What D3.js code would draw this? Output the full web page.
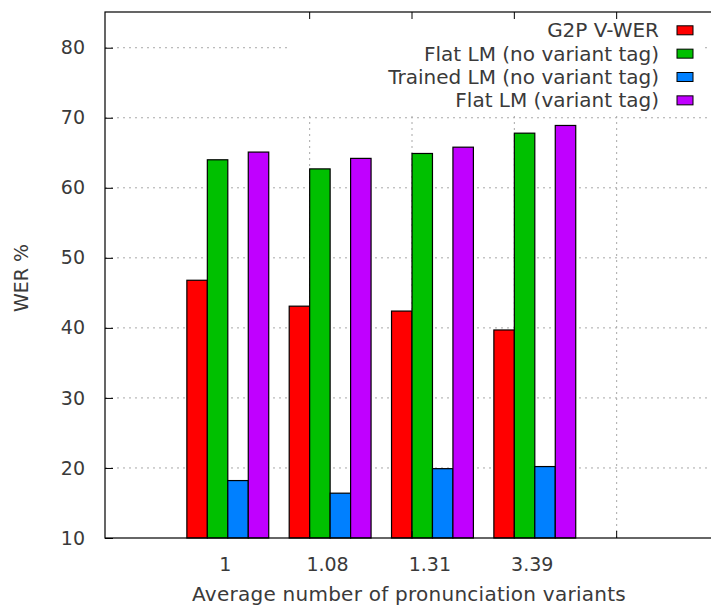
<!DOCTYPE html>
<html>
<head>
<meta charset="utf-8">
<script src="https://cdn.jsdelivr.net/npm/d3@7"></script>
<style>
  body { margin: 0; background: #fff; }
  svg { display: block; font-family: "DejaVu Sans", sans-serif; }
</style>
</head>
<body>
<div id="chart"></div>
<script>
const categories = ["1", "1.08", "1.31", "3.39"];
const seriesNames = ["G2P V-WER", "Flat LM (no variant tag)", "Trained LM (no variant tag)", "Flat LM (variant tag)"];
const colors = ["#ff0000", "#00c000", "#0080ff", "#c000ff"];
const g2p = [46.8, 43.1, 42.4, 39.7];
const flatNoTag = [64.0, 62.7, 64.9, 67.8];
const trainedNoTag = [18.2, 16.4, 19.9, 20.2];
const flatTag = [65.1, 64.2, 65.8, 68.9];
const yTicks = [10, 20, 30, 40, 50, 60, 70, 80];

const series = [g2p, flatNoTag, trainedNoTag, flatTag];

const width = 711;
const height = 606;
const margin = { top: 12, bottom: 68, left: 105, right: -8 };
const textColor = "#3a3a3a";
const yMax = 85.1;

const svg = d3.select("#chart")
    .append("svg")
    .attr("width", width)
    .attr("height", height);

// cluster i is centred at i, each bar is 0.2 wide
const x = d3.scaleLinear()
    .domain([-1.2, 4.8])
    .range([margin.left, width - margin.right]);

const y = d3.scaleLinear()
    .domain([10, yMax])
    .range([height - margin.bottom, margin.top]);

const barW = 0.2;
const gridTicks = categories.map((d, i) => i + 0.8);

// grid
svg.append("g")
    .selectAll("line")
    .data(yTicks.slice(1))
    .join("line")
        .attr("x1", x(-1.2)).attr("x2", x(4.8))
        .attr("y1", d => y(d)).attr("y2", d => y(d))
        .attr("stroke", "#a8a8a8")
        .attr("stroke-dasharray", "2,4");

svg.append("g")
    .selectAll("line")
    .data(gridTicks)
    .join("line")
        .attr("x1", d => x(d)).attr("x2", d => x(d))
        .attr("y1", y(10)).attr("y2", y(yMax))
        .attr("stroke", "#a8a8a8")
        .attr("stroke-dasharray", "2,4");

// bars
const bars = [];
series.forEach((vals, s) => vals.forEach((v, i) => bars.push({ s, i, v })));

svg.append("g")
    .selectAll("rect")
    .data(bars)
    .join("rect")
        .attr("x", d => x(d.i - 0.4 + d.s * barW))
        .attr("width", x(barW) - x(0))
        .attr("y", d => y(d.v))
        .attr("height", d => y(10) - y(d.v))
        .attr("fill", d => colors[d.s])
        .attr("stroke", "#000")
        .attr("stroke-width", 1.2);

// legend with white box
const legend = svg.append("g");
legend.append("rect")
    .attr("x", 290).attr("y", margin.top + 1)
    .attr("width", 415).attr("height", 101)
    .attr("fill", "#fff");

legend.selectAll("text")
    .data(seriesNames)
    .join("text")
        .attr("x", 659)
        .attr("y", (d, i) => 30.3 + i * 23.35)
        .attr("dy", "0.35em")
        .attr("text-anchor", "end")
        .attr("font-size", 20)
        .attr("fill", textColor)
        .text(d => d);

legend.selectAll("rect.sw")
    .data(seriesNames)
    .join("rect")
        .attr("class", "sw")
        .attr("x", 677)
        .attr("y", (d, i) => 25.8 + i * 23.35)
        .attr("width", 16)
        .attr("height", 9)
        .attr("fill", (d, i) => colors[i])
        .attr("stroke", "#000");

// axes
const yAxis = d3.axisLeft(y).tickValues(yTicks).tickSize(-8).tickPadding(20);
svg.append("g")
    .attr("transform", `translate(${margin.left},0)`)
    .call(yAxis)
    .call(g => g.select(".domain").remove())
    .call(g => g.selectAll("text").attr("font-size", 19).attr("fill", textColor).attr("font-family", "DejaVu Sans"))
    .call(g => g.selectAll("line").attr("stroke", "#000"));

const xAxis = d3.axisBottom(x)
    .tickValues(categories.map((d, i) => i - 0.03))
    .tickFormat((d, i) => categories[i])
    .tickSize(0).tickPadding(20);
svg.append("g")
    .attr("transform", `translate(0,${y(10)})`)
    .call(xAxis)
    .call(g => g.select(".domain").remove())
    .call(g => g.selectAll("text").attr("font-size", 19).attr("fill", textColor).attr("font-family", "DejaVu Sans"));

// x2 ticks at top and bottom
svg.append("g")
    .selectAll("line")
    .data(gridTicks)
    .join("line")
        .attr("x1", d => x(d)).attr("x2", d => x(d))
        .attr("y1", y(yMax)).attr("y2", y(yMax) + 7)
        .attr("stroke", "#000");
svg.append("g")
    .selectAll("line")
    .data(gridTicks)
    .join("line")
        .attr("x1", d => x(d)).attr("x2", d => x(d))
        .attr("y1", y(10)).attr("y2", y(10) - 7)
        .attr("stroke", "#000");

// border
svg.append("rect")
    .attr("x", x(-1.2)).attr("y", y(yMax))
    .attr("width", x(4.8) - x(-1.2))
    .attr("height", y(10) - y(yMax))
    .attr("fill", "none")
    .attr("stroke", "#000")
    .attr("stroke-width", 1.2);

// titles
svg.append("text")
    .attr("x", 409).attr("y", 601)
    .attr("text-anchor", "middle")
    .attr("font-size", 20)
    .attr("letter-spacing", 0.25)
    .attr("fill", textColor)
    .text("Average number of pronunciation variants");

svg.append("text")
    .attr("transform", "translate(28,278) rotate(-90)")
    .attr("text-anchor", "middle")
    .attr("font-size", 19)
    .attr("fill", textColor)
    .text("WER %");
</script>
</body>
</html>
